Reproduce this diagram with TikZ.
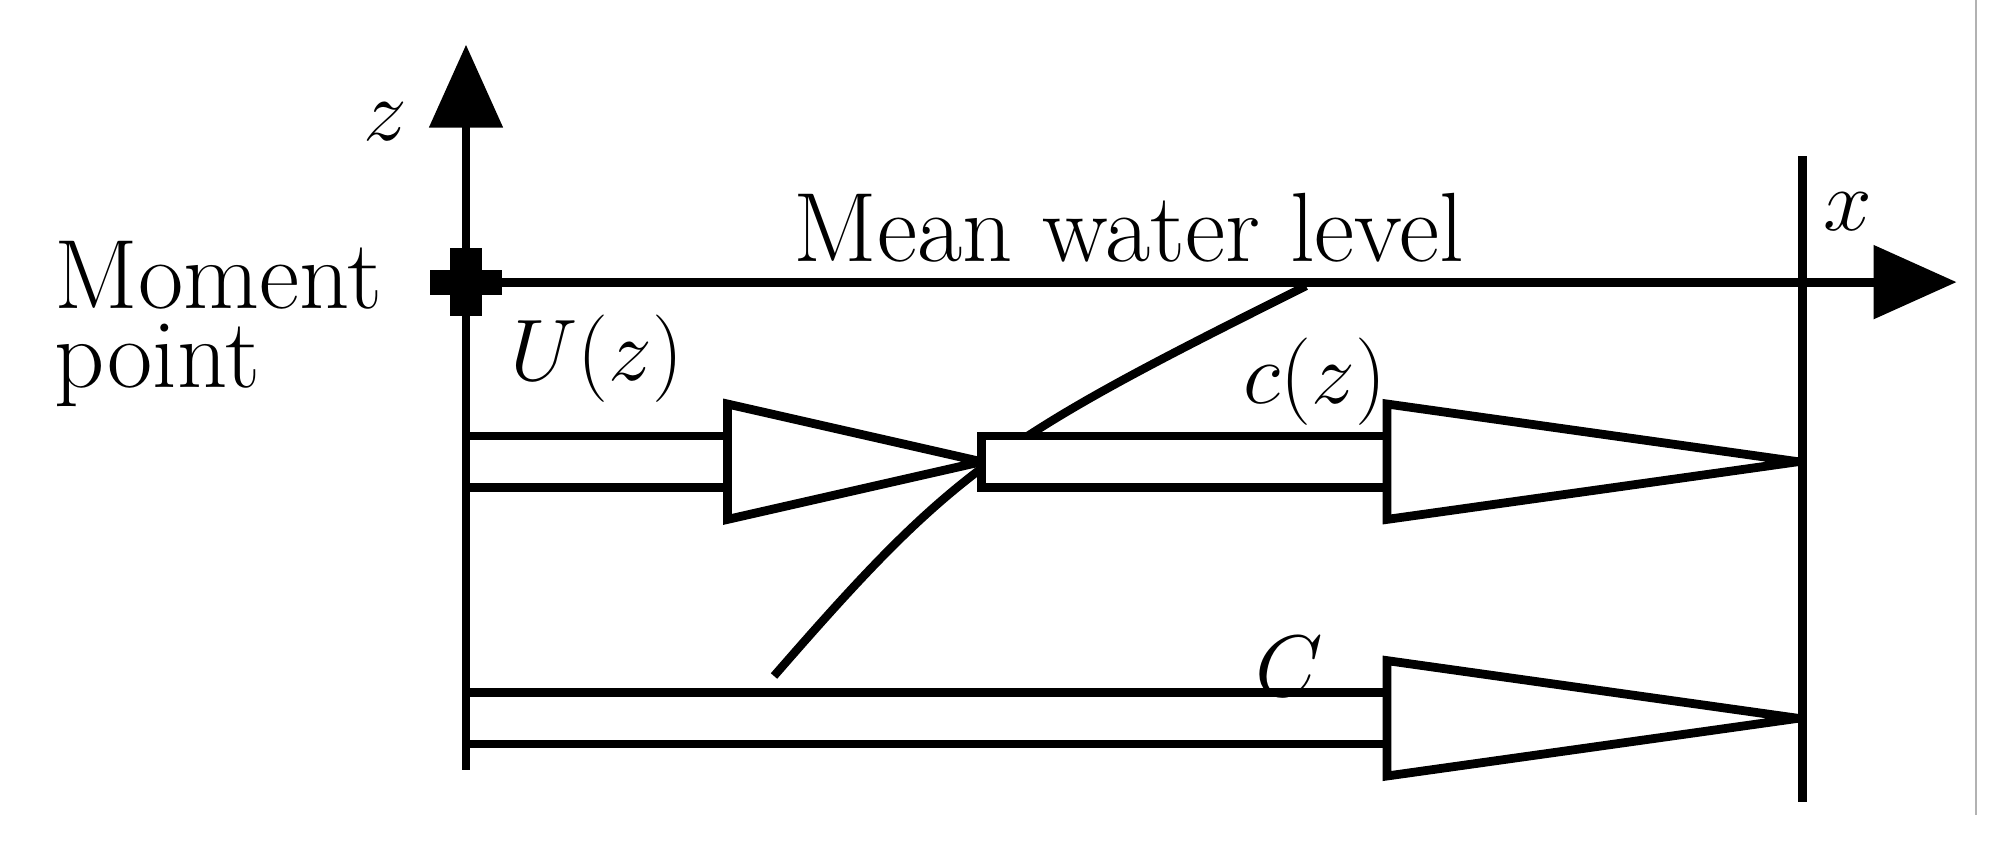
\documentclass[tikz,border=0pt]{standalone}
\usetikzlibrary{arrows.meta,positioning}
\tikzset{axis/.style={line width=2.5pt,-{Triangle[length=8.3mm,width=7.2mm]}},bar/.style={draw,line width=2.4pt,fill=white},head/.style={draw,line width=2.5pt,fill=white,line join=miter,miter limit=4},profile/.style={line width=2.4pt},wall/.style={line width=2.5pt},lbl/.style={font=\fontsize{28}{32}\selectfont,inner sep=0pt},mlbl/.style={font=\fontsize{24}{28}\selectfont,inner sep=0pt}}

\begin{document}
\begin{tikzpicture}
\useasboundingbox (0,0) rectangle (20.12,8.53);
\coordinate (O) at (4.66,5.709);
\coordinate (zbot) at (4.66,0.834);
\coordinate (ztip) at (4.66,8.083);
\coordinate (xtip) at (19.566,5.709);
\coordinate (wtop) at (18.026,6.967);
\coordinate (wbot) at (18.026,0.513);
\coordinate (pbot) at (7.74,1.77);
\coordinate (ptop) at (13.06,5.67);
\draw[profile] (pbot) .. controls (9.55,3.85) and (9.95,4.12) .. (ptop);
\draw[bar] (4.66,3.657) rectangle (7.275,4.170);
\draw[head] (7.275,3.336) -- (9.815,3.913) -- (7.275,4.490) -- cycle;
\draw[bar] (9.815,3.657) rectangle (13.87,4.170);
\draw[head] (13.87,3.336) -- (17.98,3.913) -- (13.87,4.490) -- cycle;
\draw[bar] (4.66,1.090) rectangle (13.87,1.604);
\draw[head] (13.87,0.770) -- (17.98,1.347) -- (13.87,1.924) -- cycle;
\draw[wall] (wbot) -- (wtop);
\draw[axis] (zbot) -- (ztip);
\draw[axis] (O) -- (xtip);
\fill (O) ++(-0.16,-0.34) rectangle ++(0.32,0.68);
\fill (O) ++(-0.36,-0.125) rectangle ++(0.72,0.25);
\draw[gray!60,line width=0.6pt] (19.758,8.53) -- (19.758,0.385);
\node[mlbl] (zlab) at (3.849,7.313) {$z$};
\node[mlbl] (xlab) at (18.475,6.415) {$x$};
\node[font=\fontsize{28}{22.5}\selectfont,inner sep=0pt,align=left,anchor=north west] (moment) at (0.539,6.127) {Moment\\point};
\node[lbl,anchor=base] (mwl) at (11.29,5.915) {Mean water level};
\node[mlbl] (ulab) at (5.966,4.946) {$U(z)$};
\node[mlbl] (clab) at (13.151,4.709) {$c(z)$};
\node[mlbl] (Clab) at (12.894,1.860) {$C$};
\end{tikzpicture}
\end{document}
